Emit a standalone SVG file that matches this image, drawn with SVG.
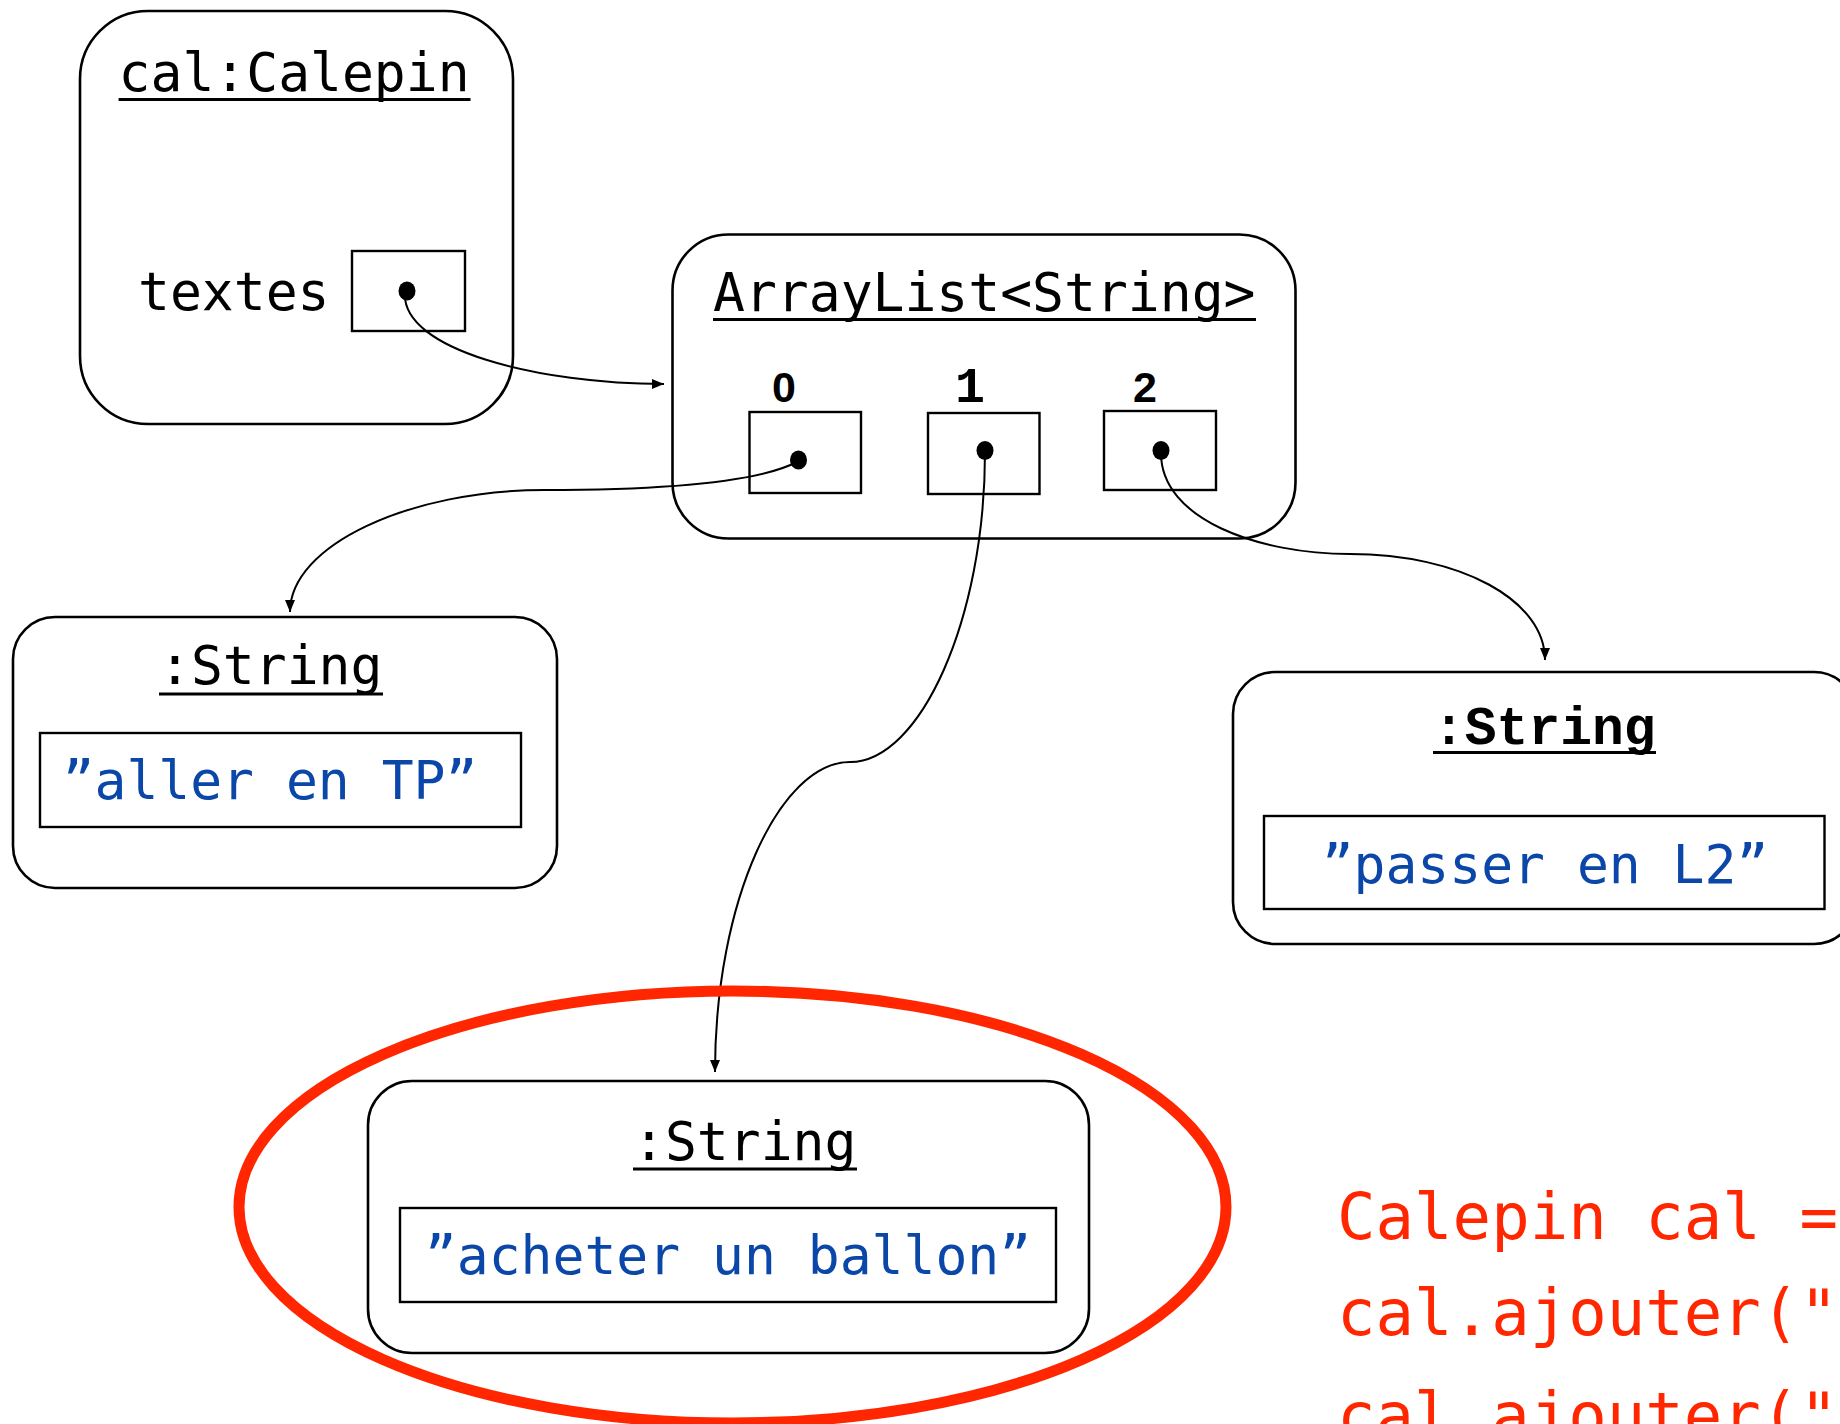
<svg xmlns="http://www.w3.org/2000/svg" width="1840" height="1424" viewBox="0 0 1840 1424">
<defs>
<style>
.box{fill:none;stroke:#000;stroke-width:2.6}
.cell{fill:#fff;stroke:#000;stroke-width:2.4}
.ul{stroke:#000;stroke-width:3}
.mono{font-family:"DejaVu Sans Mono","Liberation Mono",monospace;font-size:53px;fill:#000}
.val{font-family:"DejaVu Sans Mono","Liberation Mono",monospace;font-size:53px;fill:#0a47a9;text-anchor:middle}
.idx{font-family:"Liberation Sans",Arial,sans-serif;font-weight:bold;font-size:43px;fill:#000;text-anchor:middle}
.code{font-family:"DejaVu Sans Mono","Liberation Mono",monospace;font-size:64px;fill:#ff2600}
.conn{fill:none;stroke:#000;stroke-width:2}
</style>
<marker id="arr" markerUnits="userSpaceOnUse" markerWidth="14" markerHeight="12" refX="12" refY="5" orient="auto">
<path d="M0,0 L12,5 L0,10 z" fill="#000"/>
</marker>
</defs>
<rect width="1840" height="1424" fill="#fff"/>

<g id="calepin">
<rect class="box" x="80" y="11" width="433" height="413" rx="68" ry="68"/>
<text class="mono" x="118.6" y="91">cal:Calepin</text>
<line class="ul" x1="118.6" y1="99.5" x2="470.5" y2="99.5"/>
<text class="mono" x="138" y="310">textes</text>
<rect class="cell" x="352" y="251" width="113" height="80"/>
</g>

<g id="arraylist">
<rect class="box" x="672.5" y="234.5" width="623" height="304" rx="56" ry="56"/>
<text class="mono" x="713" y="311">ArrayList&lt;String&gt;</text>
<line class="ul" x1="713" y1="319.5" x2="1256" y2="319.5"/>
<text class="idx" x="784" y="402">0</text>
<text class="idx" x="970" y="402" style="font-family:'Liberation Mono',monospace;font-size:50px">1</text>
<text class="idx" x="1145" y="402">2</text>
<rect class="cell" x="749.5" y="412" width="111.5" height="81"/>
<rect class="cell" x="928" y="413" width="111.5" height="81"/>
<rect class="cell" x="1104" y="411" width="112" height="79"/>
</g>

<g id="string0">
<rect class="box" x="13" y="617" width="544" height="271" rx="42" ry="42"/>
<text class="mono" x="159" y="684">:String</text>
<line class="ul" x1="159" y1="694" x2="383" y2="694"/>
<rect class="cell" x="40" y="733" width="481" height="94"/>
<text class="val" x="270" y="799">”aller en TP”</text>
</g>

<g id="string2">
<rect class="box" x="1233" y="672" width="623" height="272" rx="42" ry="42"/>
<text x="1433" y="744" style="font-family:'Liberation Mono','Courier New',monospace;font-weight:bold;font-size:53px;fill:#000">:String</text>
<line class="ul" x1="1433" y1="752.5" x2="1656" y2="752.5"/>
<rect class="cell" x="1264" y="816" width="560.5" height="93"/>
<text class="val" x="1545" y="883">”passer en L2”</text>
</g>

<g id="string1">
<rect class="box" x="368" y="1081" width="721" height="272" rx="44" ry="44"/>
<text class="mono" x="633" y="1160">:String</text>
<line class="ul" x1="633" y1="1169" x2="857" y2="1169"/>
<rect class="cell" x="400" y="1208" width="656" height="94"/>
<text class="val" x="728" y="1274">”acheter un ballon”</text>
</g>

<g id="connectors">
<path class="conn" d="M405 292 C400 350 540 384 664 384" marker-end="url(#arr)"/>
<path class="conn" d="M797 462 C760 481 680 490 545 490 C410 490 290 545 290 612" marker-end="url(#arr)"/>
<path class="conn" d="M985 452 C985 620 920 762 850 762 C780 762 715 900 715 1072" marker-end="url(#arr)"/>
<path class="conn" d="M1161 452 C1160 520 1260 554 1350 554 C1460 554 1545 600 1545 660" marker-end="url(#arr)"/>
</g>

<g id="dots">
<ellipse cx="407" cy="291" rx="8.5" ry="9.5"/>
<ellipse cx="798.5" cy="460" rx="8.5" ry="9.5"/>
<ellipse cx="985" cy="450.5" rx="8.5" ry="9.5"/>
<ellipse cx="1161" cy="450.5" rx="8.5" ry="9.5"/>
</g>

<g id="highlight">
<ellipse cx="732.5" cy="1207" rx="493.5" ry="216" fill="none" stroke="#ff2600" stroke-width="11"/>
</g>

<g id="code">
<text class="code" x="1337" y="1239">Calepin cal =</text>
<text class="code" x="1337" y="1335">cal.ajouter("</text>
<text class="code" x="1337" y="1438">cal.ajouter("</text>
</g>
</svg>
